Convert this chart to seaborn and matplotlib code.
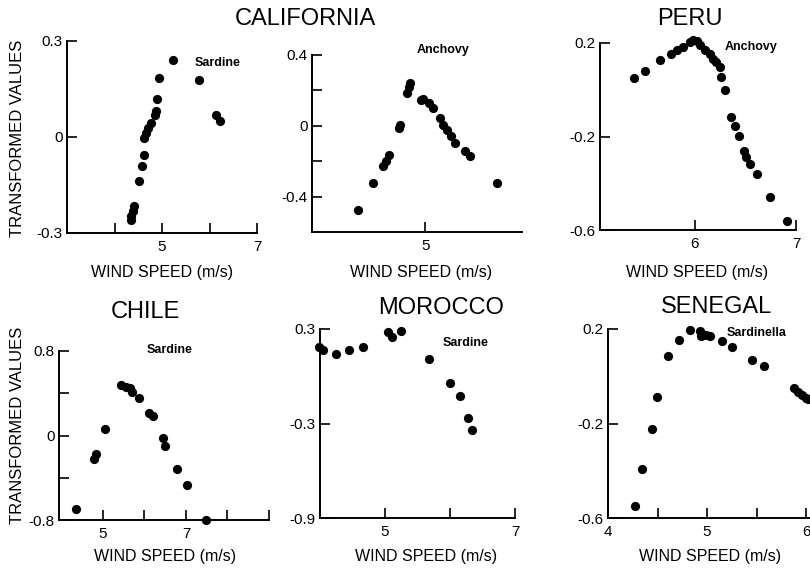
import matplotlib
matplotlib.use("Agg")
import matplotlib.pyplot as plt
import seaborn as sns
import pandas as pd

# ---------------- data ----------------
cal_sard_x = [5.23, 4.93, 5.78, 4.90, 4.87, 4.85, 6.13, 6.22, 4.77, 4.70, 4.67, 4.63,
              4.62, 4.58, 4.51, 4.42, 4.38, 4.35, 4.34]
cal_sard_y = [0.241, 0.184, 0.179, 0.118, 0.080, 0.070, 0.070, 0.049, 0.044, 0.028, 0.012,
              -0.003, -0.055, -0.091, -0.138, -0.216, -0.232, -0.247, -0.258]

cal_anch_x = [4.41, 4.54, 4.63, 4.65, 4.68, 4.77, 4.78, 4.84, 4.86, 4.87, 4.96, 4.98,
              5.03, 5.07, 5.13, 5.16, 5.19, 5.23, 5.26, 5.35, 5.40, 5.63]
cal_anch_y = [-0.473, -0.323, -0.225, -0.201, -0.163, -0.013, 0.006, 0.188, 0.218, 0.240,
              0.146, 0.150, 0.128, 0.100, 0.043, 0.006, -0.023, -0.060, -0.098, -0.145,
              -0.173, -0.323]

peru_anch_x = [5.40, 5.51, 5.65, 5.76, 5.82, 5.88, 5.95, 5.98, 6.02, 6.05, 6.10, 6.15,
               6.18, 6.21, 6.25, 6.26, 6.30, 6.36, 6.40, 6.44, 6.49, 6.51, 6.54, 6.61,
               6.74, 6.91]
peru_anch_y = [0.051, 0.080, 0.126, 0.154, 0.171, 0.183, 0.204, 0.214, 0.209, 0.190,
               0.169, 0.151, 0.133, 0.119, 0.097, 0.054, -0.003, -0.117, -0.153, -0.196,
               -0.260, -0.289, -0.317, -0.360, -0.460, -0.560]

chile_sard_x = [4.36, 4.78, 4.82, 5.06, 5.44, 5.56, 5.64, 5.71, 5.87, 6.12, 6.20, 6.45,
                6.49, 6.78, 7.02, 7.47]
chile_sard_y = [-0.692, -0.224, -0.178, 0.065, 0.477, 0.461, 0.445, 0.414, 0.352, 0.212,
                0.181, -0.022, -0.100, -0.318, -0.464, -0.801]

mor_sard_x = [3.98, 4.04, 4.24, 4.44, 4.66, 5.04, 5.10, 5.24, 5.68, 6.00, 6.15, 6.27, 6.34]
mor_sard_y = [0.185, 0.169, 0.139, 0.165, 0.186, 0.283, 0.251, 0.289, 0.111, -0.045,
              -0.124, -0.268, -0.339]

sen_sard_x = [4.27, 4.34, 4.44, 4.49, 4.61, 4.72, 4.83, 4.93, 4.94, 4.99, 5.03, 5.15,
              5.25, 5.45, 5.58, 5.88, 5.92, 5.96, 6.00, 6.02]
sen_sard_y = [-0.551, -0.393, -0.223, -0.088, 0.087, 0.155, 0.194, 0.190, 0.169, 0.176,
              0.172, 0.148, 0.124, 0.067, 0.045, -0.050, -0.068, -0.080, -0.092, -0.098]

titles = ["CALIFORNIA", "PERU", "CHILE", "MOROCCO", "SENEGAL"]
species = ["Sardine", "Anchovy", "Anchovy", "Sardine", "Sardine", "Sardinella"]
xlabel = "WIND SPEED (m/s)"
ylabel = "TRANSFORMED VALUES"

# ---------------- style ----------------
sns.set_style("ticks")
plt.rcParams["font.family"] = ["Liberation Sans", "DejaVu Sans"]
plt.rcParams["text.color"] = "black"
plt.rcParams["xtick.color"] = "black"
plt.rcParams["ytick.color"] = "black"
plt.rcParams["axes.edgecolor"] = "black"

W, H = 810, 573
fig = plt.figure(figsize=(W / 100, H / 100), dpi=100)


def box(l, t, r, b):
    return [l / W, 1 - b / H, (r - l) / W, (b - t) / H]


def ftext(x, y, s, **kw):
    fig.text(x / W, 1 - y / H, s, **kw)


panels = [
    dict(pos=box(67, 41, 257, 233), x=cal_sard_x, y=cal_sard_y, xlim=(3.0, 7.0), ylim=(-0.3, 0.3),
         xt=[4, 5, 6, 7], xtl=["", "5", "", "7"], yt=[-0.3, 0, 0.3], ytl=["-0.3", "0", "0.3"]),
    dict(pos=box(312, 55, 522, 232), x=cal_anch_x, y=cal_anch_y, xlim=(4.0, 5.855), ylim=(-0.6, 0.4),
         xt=[5], xtl=["5"], yt=[-0.4, -0.2, 0, 0.2, 0.4], ytl=["-0.4", "", "0", "", "0.4"]),
    dict(pos=box(600, 43, 796, 230), x=peru_anch_x, y=peru_anch_y, xlim=(5.06, 7.0), ylim=(-0.6, 0.2),
         xt=[6, 7], xtl=["6", "7"], yt=[-0.6, -0.2, 0.2], ytl=["-0.6", "-0.2", "0.2"]),
    dict(pos=box(59, 351, 269, 520), x=chile_sard_x, y=chile_sard_y, xlim=(3.94, 9.0), ylim=(-0.8, 0.8),
         xt=[5, 6, 7, 8, 9], xtl=["5", "", "7", "", ""], yt=[-0.8, -0.4, 0, 0.4, 0.8],
         ytl=["-0.8", "", "0", "", "0.8"]),
    dict(pos=box(320, 329, 515, 518), x=mor_sard_x, y=mor_sard_y, xlim=(4.0, 7.0), ylim=(-0.9, 0.3),
         xt=[5, 6, 7], xtl=["5", "", "7"], yt=[-0.9, -0.3, 0.3], ytl=["-0.9", "-0.3", "0.3"]),
    dict(pos=box(608, 329, 812, 518), x=sen_sard_x, y=sen_sard_y, xlim=(4.0, 6.06), ylim=(-0.6, 0.2),
         xt=[4, 4.5, 5, 5.5, 6], xtl=["4", "", "5", "", "6"], yt=[-0.6, -0.2, 0.2],
         ytl=["-0.6", "-0.2", "0.2"]),
]

for p in panels:
    ax = fig.add_axes(p["pos"])
    df = pd.DataFrame({"x": p["x"], "y": p["y"]})
    sns.scatterplot(data=df, x="x", y="y", ax=ax, color="black", s=44, edgecolor="black",
                    linewidth=0, clip_on=False, zorder=3)
    ax.set_xlim(*p["xlim"])
    ax.set_ylim(*p["ylim"])
    ax.set_xticks(p["xt"])
    ax.set_xticklabels(p["xtl"])
    ax.set_yticks(p["yt"])
    ax.set_yticklabels(p["ytl"])
    ax.set_xlabel("")
    ax.set_ylabel("")
    for s in ["top", "right"]:
        ax.spines[s].set_visible(False)
    for s in ["left", "bottom"]:
        ax.spines[s].set_linewidth(1.4)
        ax.spines[s].set_color("black")
    ax.tick_params(axis="both", direction="in", length=7, width=1.2, labelsize=11,
                   colors="black")
    ax.tick_params(axis="x", pad=5)
    ax.tick_params(axis="y", pad=3)
    ax.set_facecolor("white")

# titles
ftext(305, 19, titles[0], ha="center", va="center", fontsize=17)
ftext(690, 19, titles[1], ha="center", va="center", fontsize=17)
ftext(145, 312, titles[2], ha="center", va="center", fontsize=17)
ftext(441, 308, titles[3], ha="center", va="center", fontsize=17)
ftext(717, 307, titles[4], ha="center", va="center", fontsize=17)

# species labels
sp_pos = [(195, 63), (417, 50), (725, 47), (147, 350), (443, 343), (727, 333)]
for (sx, sy), name in zip(sp_pos, species):
    ftext(sx, sy, name, ha="left", va="center", fontsize=9, fontweight="bold")

# x labels
for cx, cy in [(162, 272), (421, 272), (697, 272), (165, 557), (426, 557), (710, 557)]:
    ftext(cx, cy, xlabel, ha="center", va="center", fontsize=11.5)

# y labels
ftext(18, 138, ylabel, ha="center", va="center", rotation=90, fontsize=12)
ftext(18, 425, ylabel, ha="center", va="center", rotation=90, fontsize=12)

fig.savefig("out.png", dpi=100, facecolor="white")
